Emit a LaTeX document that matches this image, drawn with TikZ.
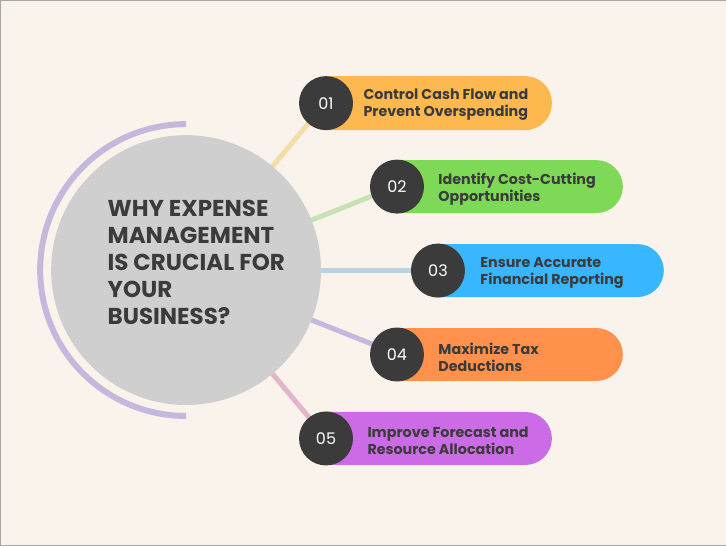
\documentclass[tikz,border=0pt]{standalone}
\usepackage{fontspec}
\setmainfont{Poppins}
\definecolor{bg}{HTML}{FAF3EC}
\definecolor{dark}{HTML}{3B3B3B}
\definecolor{lav}{HTML}{C5B8DD}
\definecolor{cy}{HTML}{F5DDA8}
\definecolor{cg}{HTML}{C7E3B5}
\definecolor{cb}{HTML}{B9D3E3}
\definecolor{cp}{HTML}{E3B5C9}
\definecolor{p1}{HTML}{FDB94F}
\definecolor{p2}{HTML}{7ED957}
\definecolor{p3}{HTML}{38B6FF}
\definecolor{p4}{HTML}{FF914D}
\definecolor{p5}{HTML}{CB6CE6}
\definecolor{bigc}{HTML}{CFCFCF}
\tikzset{x=1pt,y=-1pt,
 pill/.style={rounded corners=26.5pt},
 num/.style={circle,fill=dark,minimum size=54pt,inner sep=0pt,text=white,font=\fontsize{16}{16}\selectfont},
 lbl/.style={anchor=west,align=left,text=dark,font=\bfseries\fontsize{14.3}{17}\selectfont},
 conn/.style={line width=5pt}}
\begin{document}
\begin{tikzpicture}
\fill[bg,draw=gray!70] (0,0) rectangle (726,545);
\coordinate (c) at (186,270);
\draw[conn,cy] (c) -- (326,102);
\draw[conn,cg] (c) -- (397,186);
\draw[conn,cb] (c) -- (438,270);
\draw[conn,lav] (c) -- (397,354);
\draw[conn,cp] (c) -- (326,438);
\draw[line width=6pt,lav] (186,124) arc[start angle=270,end angle=90,radius=146];
\node[circle,fill=bigc,minimum size=270pt,inner sep=0pt] (big) at (c) {};
\node[anchor=west,align=left,text=dark,font=\bfseries\fontsize{23}{27}\selectfont] (t) at (104,262) {WHY EXPENSE\\MANAGEMENT\\IS CRUCIAL FOR\\YOUR\\BUSINESS?};
\fill[pill,p1] (300,76) rectangle (552,130);
\fill[pill,p2] (371,160) rectangle (623,213);
\fill[pill,p3] (412,244) rectangle (664,297);
\fill[pill,p4] (371,328) rectangle (623,381);
\fill[pill,p5] (300,412) rectangle (552,465);
\node[num] (n1) at (326,103) {01};
\node[num] (n2) at (397,186.5) {02};
\node[num] (n3) at (438,270.5) {03};
\node[num] (n4) at (397,354.5) {04};
\node[num] (n5) at (326,438.5) {05};
\node[lbl] (l1) at (360,105) {Control Cash Flow and\\Prevent Overspending};
\node[lbl] (l2) at (435,189) {Identify Cost-Cutting\\Opportunities};
\node[lbl] (l3) at (477,273) {Ensure Accurate\\Financial Reporting};
\node[lbl] (l4) at (435,357) {Maximize Tax\\Deductions};
\node[lbl] (l5) at (364,441) {Improve Forecast and\\Resource Allocation};
\end{tikzpicture}
\end{document}
